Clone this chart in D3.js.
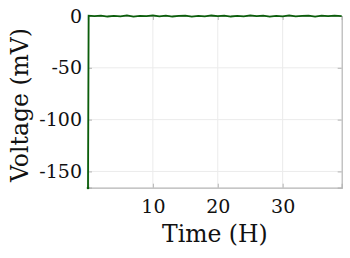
<!DOCTYPE html>
<html><head><meta charset="utf-8">
<script src="https://cdn.jsdelivr.net/npm/d3@7"></script>
<style>body{margin:0;background:#fff}svg{display:block}</style>
</head><body><svg id="c" width="350" height="258"></svg>
<script>
const timeH = [0, 0.1, 1, 2, 3, 4, 5, 6, 7, 8, 9, 10, 11, 12, 13, 14, 15, 16, 17, 18, 19, 20, 21, 22, 23, 24, 25, 26, 27, 28, 29, 30, 31, 32, 33, 34, 35, 36, 37, 38, 39.1];
const voltage = [-166, 0.3, -0.2, 0.4, -0.5, 0.2, -0.3, 0.5, -0.6, 0.1, -0.2, 0.6, -0.4, 0.3, -0.5, 0.2, 0.4, -0.6, 0.1, -0.3, 0.5, -0.2, 0.4, -0.5, 0.2, -0.4, 0.6, -0.1, 0.3, -0.6, 0.2, -0.3, 0.5, -0.4, 0.1, 0.4, -0.5, 0.3, -0.2, 0.4, -0.1];
const xTicks = [10, 20, 30];
const yTicks = [0, -50, -100, -150];

const svg = d3.select('#c');
const L = 88, R = 341.7, T = 16, B = 187.7;
const x = d3.scaleLinear().domain([0, 39.1]).range([L, R]);
const y = d3.scaleLinear().domain([-165.7, 0]).range([B, T]);
const grid = '#ebebeb', axc = '#b4b4b4';
const font = '"DejaVu Serif", serif';
const fmt = d => String(d);

// grid
svg.append('g').selectAll('line').data(xTicks).join('line')
  .attr('x1', d => x(d)).attr('x2', d => x(d)).attr('y1', T).attr('y2', B)
  .attr('stroke', grid).attr('stroke-width', 1);
svg.append('g').selectAll('line').data(yTicks).join('line')
  .attr('x1', L).attr('x2', R).attr('y1', d => y(d)).attr('y2', d => y(d))
  .attr('stroke', grid).attr('stroke-width', 1);

// axes
const xa = svg.append('g').attr('transform', `translate(0,${B})`)
  .call(d3.axisBottom(x).tickValues(xTicks).tickSize(-4).tickPadding(12).tickFormat(fmt));
const xt = svg.append('g').attr('transform', `translate(0,${T})`)
  .call(d3.axisTop(x).tickValues(xTicks).tickSize(-4).tickFormat(''));
const ya = svg.append('g').attr('transform', `translate(${L},0)`)
  .call(d3.axisLeft(y).tickValues(yTicks).tickSize(-4).tickPadding(6).tickFormat(fmt));
const yr = svg.append('g').attr('transform', `translate(${R},0)`)
  .call(d3.axisRight(y).tickValues(yTicks).tickSize(-4).tickFormat(''));
[xa, xt, ya, yr].forEach(g => {
  g.select('.domain').attr('stroke', axc).attr('stroke-width', 1.2);
  g.selectAll('.tick line').attr('stroke', axc);
  g.selectAll('.tick text').attr('font-family', font).attr('font-size', 19).attr('fill', '#111');
});

// data line
svg.append('path').datum(timeH.map((t, i) => [t, voltage[i]]))
  .attr('fill', 'none').attr('stroke', '#0b5e0b').attr('stroke-width', 1.8)
  .attr('d', d3.line().x(d => x(d[0])).y(d => y(d[1])));
svg.append('circle').attr('cx', x(timeH[0])).attr('cy', y(voltage[0])).attr('r', 1.3).attr('fill', '#0b5e0b');

// labels
svg.append('text').attr('x', (L + R) / 2).attr('y', 242).attr('text-anchor', 'middle')
  .attr('font-family', font).attr('font-size', 23.5).attr('fill', '#111').text('Time (H)');
svg.append('text').attr('transform', `translate(28,105) rotate(-90)`).attr('text-anchor', 'middle')
  .attr('font-family', font).attr('font-size', 23.5).attr('fill', '#111').text('Voltage (mV)');
</script></body></html>
